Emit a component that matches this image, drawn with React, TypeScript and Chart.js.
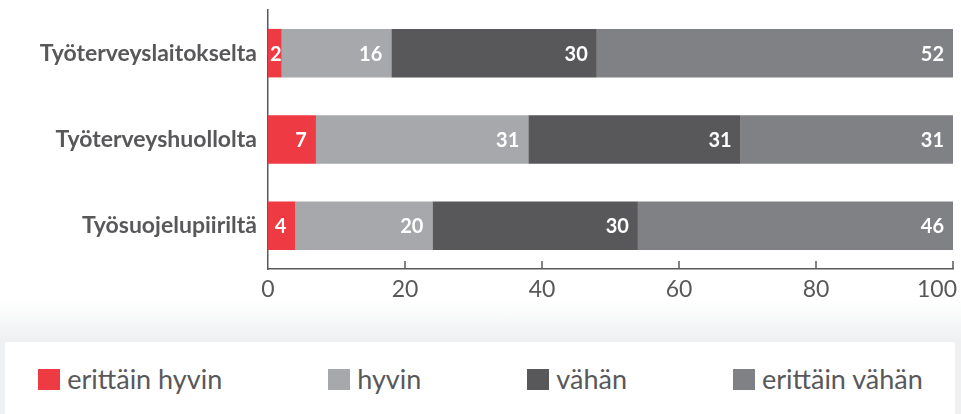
import React, { useEffect, useRef } from 'react';
import { Chart, registerables } from 'chart.js';

Chart.register(...registerables);

// ---- data ----
const categories = ['Työterveyslaitokselta', 'Työterveyshuollolta', 'Työsuojelupiiriltä'];
const seriesNames = ['erittäin hyvin', 'hyvin', 'vähän', 'erittäin vähän'];
const erittainHyvin = [2, 7, 4];
const hyvin = [16, 31, 20];
const vahan = [30, 31, 30];
const erittainVahan = [52, 31, 46];
const xTickValues = [0, 20, 40, 60, 80, 100];

// ---- styles ----
const seriesColors = ['#ee3a43', '#a7a8ab', '#58585a', '#808184'];
const textColor = '#58585a';
const axisColor = '#5a5a5c';
const FONT = 'Lato, "Open Sans", sans-serif';

const segmentLabelPlugin = {
  id: 'segmentLabels',
  afterDatasetsDraw(chart: any) {
    const ctx = chart.ctx;
    ctx.save();
    ctx.font = `bold 20px ${FONT}`;
    ctx.fillStyle = '#ffffff';
    ctx.textAlign = 'right';
    ctx.textBaseline = 'middle';
    chart.data.datasets.forEach((ds: any, di: number) => {
      const meta = chart.getDatasetMeta(di);
      meta.data.forEach((el: any, i: number) => {
        const text = String(ds.data[i]);
        const w = ctx.measureText(text).width;
        const p = el.getProps(['x', 'y', 'base'], true);
        const right = Math.max(p.x - 9, p.base + 2 + w);
        ctx.fillText(text, right, p.y + 1);
      });
    });
    ctx.restore();
  },
};

const xAxisPlugin = {
  id: 'xAxisTicks',
  afterDraw(chart: any) {
    const ctx = chart.ctx;
    const xs = chart.scales.x;
    const bottom = chart.chartArea.bottom;
    ctx.save();
    ctx.strokeStyle = axisColor;
    ctx.lineWidth = 1.5;
    ctx.font = `23px ${FONT}`;
    ctx.fillStyle = textColor;
    ctx.textBaseline = 'alphabetic';
    ctx.textAlign = 'center';
    xTickValues.forEach((v) => {
      const px = xs.getPixelForValue(v);
      if (v !== xTickValues[0]) {
        ctx.beginPath();
        ctx.moveTo(px, bottom);
        ctx.lineTo(px, bottom - 8);
        ctx.stroke();
      }
      const label = String(v);
      const w = ctx.measureText(label).width;
      const cx = Math.min(px, chart.width - 4 - w / 2);
      ctx.fillText(label, cx, bottom + 28);
    });
    ctx.restore();
  },
};

function ChartCanvas() {
  const ref = useRef<HTMLCanvasElement | null>(null);
  useEffect(() => {
    if (!ref.current) return;
    const seriesValues = [erittainHyvin, hyvin, vahan, erittainVahan];
    const chart = new Chart(ref.current, {
      type: 'bar',
      data: {
        labels: categories,
        datasets: seriesNames.map((name, i) => ({
          label: name,
          data: seriesValues[i],
          backgroundColor: seriesColors[i],
          borderWidth: 0,
          barPercentage: 0.562,
          categoryPercentage: 1,
        })),
      },
      options: {
        indexAxis: 'y',
        responsive: false,
        animation: false,
        devicePixelRatio: 1,
        layout: { padding: { top: 10, right: 8, bottom: 33, left: 0 } },
        plugins: {
          legend: { display: false },
          tooltip: { enabled: false },
        },
        scales: {
          x: {
            stacked: true,
            min: 0,
            max: 100,
            grid: { display: false },
            ticks: { display: false },
            border: { display: true, color: axisColor, width: 1.5 },
            afterFit: (s: any) => {
              s.paddingLeft = 0;
              s.paddingRight = 0;
            },
          },
          y: {
            stacked: true,
            grid: { display: false, drawTicks: false },
            border: { display: true, color: axisColor, width: 1.5 },
            ticks: {
              color: textColor,
              padding: 11,
              font: { family: FONT, size: 23, weight: 'bold' },
            },
            afterFit: (s: any) => {
              s.width = 268;
              s.paddingTop = 0;
              s.paddingBottom = 0;
            },
          },
        },
      },
      plugins: [segmentLabelPlugin, xAxisPlugin],
    } as any);
    return () => chart.destroy();
  }, []);
  return (
    <canvas
      ref={ref}
      width={961}
      height={310}
      style={{ position: 'absolute', left: 0, top: 0, width: 961, height: 310 }}
    />
  );
}

export default function App() {
  return (
    <div
      style={{
        position: 'relative',
        width: 961,
        height: 414,
        overflow: 'hidden',
        background: '#ffffff',
        fontFamily: FONT,
      }}
    >
      <style>{'body{margin:0;}'}</style>
      <div
        style={{
          position: 'absolute',
          left: 0,
          top: 300,
          width: 961,
          height: 114,
          background: 'linear-gradient(to bottom, #ffffff 0px, #eef0f1 42px, #eef0f1 114px)',
        }}
      />
      <div
        style={{
          position: 'absolute',
          left: 5,
          top: 342,
          width: 950,
          height: 80,
          background: '#ffffff',
        }}
      />
      <ChartCanvas />
      <div
        style={{
          position: 'absolute',
          left: 0,
          top: 362,
          width: 961,
          display: 'flex',
          justifyContent: 'center',
          gap: 106,
          fontSize: 27,
          color: textColor,
          lineHeight: '34px',
        }}
      >
        {seriesNames.map((name, i) => (
          <div key={name} style={{ display: 'flex', alignItems: 'center', whiteSpace: 'nowrap' }}>
            <span
              style={{
                display: 'inline-block',
                width: 22,
                height: 21,
                background: seriesColors[i],
                marginRight: 7,
              }}
            />
            <span>{name}</span>
          </div>
        ))}
      </div>
    </div>
  );
}
